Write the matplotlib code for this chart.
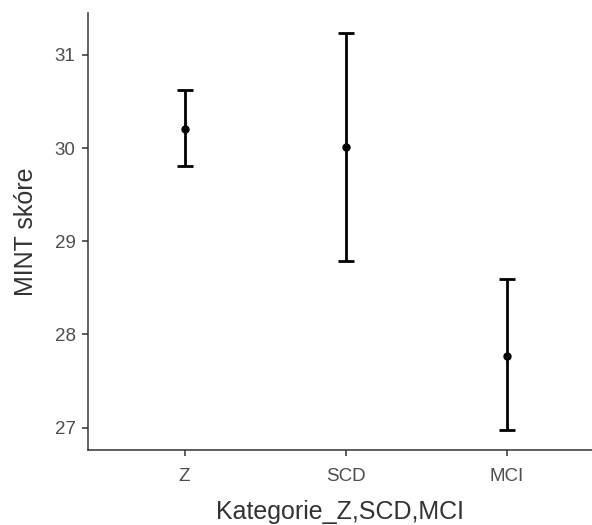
import matplotlib
matplotlib.use("Agg")
import matplotlib.pyplot as plt

categories = ["Z", "SCD", "MCI"]
means = [30.21, 30.01, 27.77]
lower = [29.81, 28.79, 26.97]
upper = [30.62, 31.24, 28.59]

plt.rcParams['font.family'] = ['Liberation Sans', 'DejaVu Sans']

W, H = 592, 525
fig = plt.figure(figsize=(W / 100, H / 100), dpi=100)
left, right, top, bottom = 88, 592, 13, 450
ax = fig.add_axes([left / W, 1 - bottom / H, (right - left) / W, (bottom - top) / H])

x = list(range(1, len(categories) + 1))
yerr = [[m - l for m, l in zip(means, lower)], [u - m for m, u in zip(means, upper)]]
ax.errorbar(x, means, yerr=yerr, fmt='o', color='black', ms=5, elinewidth=2,
            capsize=5.8, capthick=2)

ax.set_xlim(0.4, 3.53)
ax.set_ylim(26.76, 31.45)
ax.set_xticks(x)
ax.set_xticklabels(categories)
ax.set_yticks([27, 28, 29, 30, 31])

for s in ['top', 'right']:
    ax.spines[s].set_visible(False)
for s in ['left', 'bottom']:
    ax.spines[s].set_color('#333333')
    ax.spines[s].set_linewidth(1.1)
ax.tick_params(axis='both', colors='#333333', length=4, width=1.1,
               labelsize=13.5, labelcolor='#4d4d4d', pad=5)
ax.tick_params(axis='x', pad=9)
ax.set_xlabel('Kategorie_Z,SCD,MCI', fontsize=18, color='#333333', labelpad=11)
ax.set_ylabel('MINT skóre', fontsize=18, color='#333333', labelpad=12)

fig.savefig('out.png', dpi=100)
